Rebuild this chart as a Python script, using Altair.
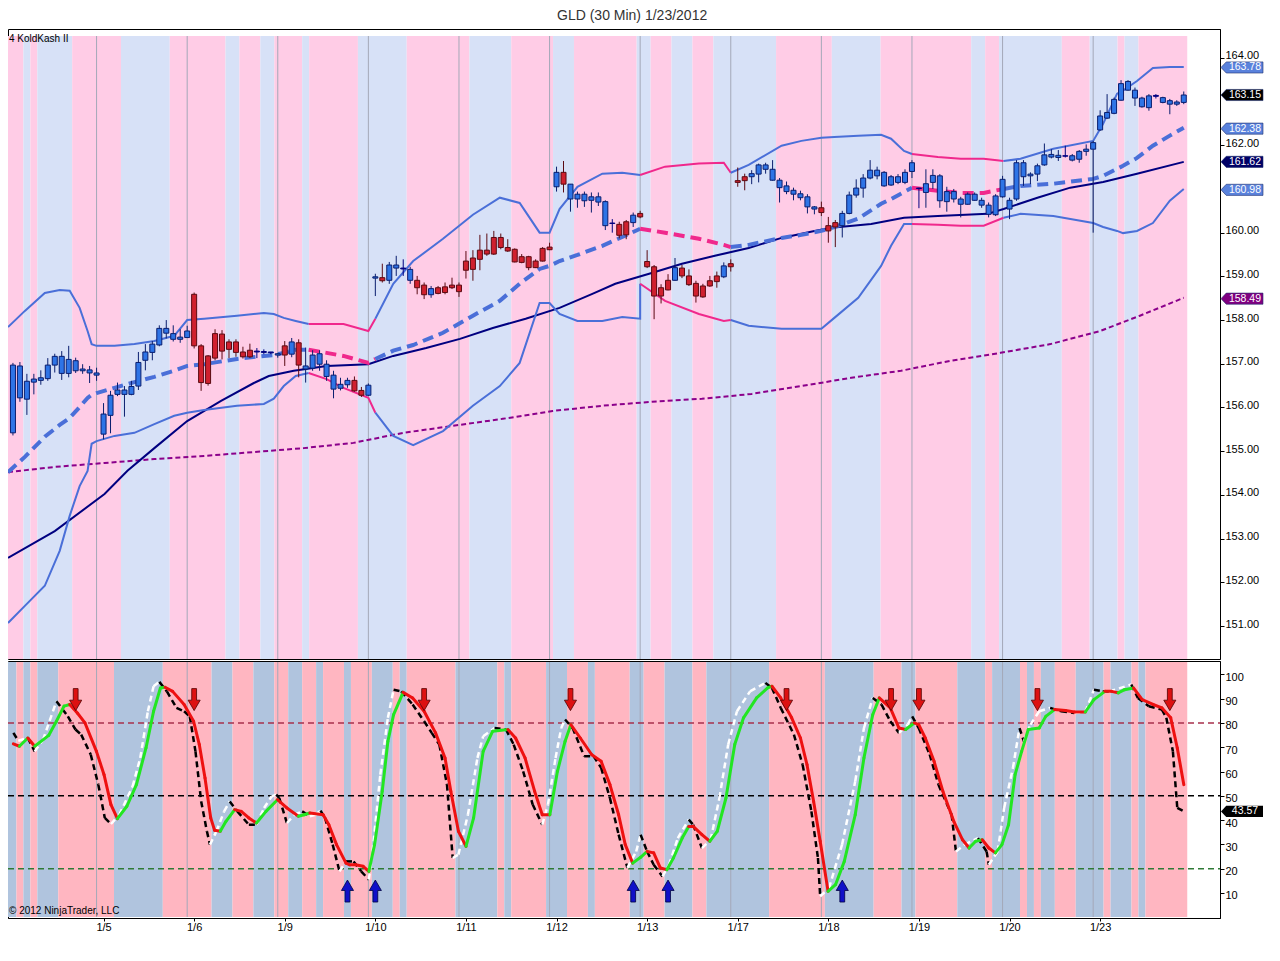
import altair as alt
import pandas as pd

# ---------------- data ----------------
BARS_PER_DAY = 13
day_labels = ["1/5", "1/6", "1/9", "1/10", "1/11", "1/12", "1/13", "1/17", "1/18", "1/19", "1/20", "1/23"]

opens = [
155.42,156.22,156.19,156.58,156.62,156.66,156.97,156.78,156.78,156.84,156.84,156.79,156.74,
155.39,155.82,156.30,156.30,156.30,156.49,157.08,157.26,157.43,157.70,157.56,157.56,157.60,
158.59,157.41,157.18,157.69,157.68,157.50,157.50,157.27,157.31,157.29,157.28,157.25,157.20,
157.41,157.22,157.48,156.88,156.90,156.99,156.71,156.42,156.44,156.52,156.62,156.39,156.28,
158.96,158.97,158.91,159.19,159.17,158.91,158.91,158.80,158.58,158.74,158.76,158.80,158.80,
159.35,159.42,159.60,159.60,159.89,159.89,159.66,159.62,159.45,159.45,159.35,159.64,159.67,
161.05,161.38,160.77,160.77,160.73,160.74,160.70,160.16,160.21,160.19,160.25,160.23,160.44,
159.34,159.22,158.74,158.91,158.91,159.19,159.01,158.84,158.78,158.90,159.01,158.99,159.29,
161.19,161.28,161.28,161.34,161.45,161.20,161.03,160.94,160.88,160.80,160.59,160.54,160.57,
160.16,160.23,160.16,160.44,160.86,161.02,161.25,161.30,161.07,161.09,161.15,161.15,161.40,
161.01,160.92,161.15,160.73,160.71,160.77,160.65,160.65,160.74,160.63,160.42,160.41,160.82,
160.54,160.77,161.28,161.30,161.34,161.55,161.73,161.72,161.75,161.66,161.68,161.86,161.91,
162.35,162.62,162.73,163.03,163.26,163.08,162.88,162.86,163.12,162.98,162.94,162.94,162.98,
]
highs = [
157.02,157.04,156.77,156.77,156.85,157.13,157.23,157.29,157.41,157.14,156.99,156.95,156.91,
156.10,156.38,156.57,156.49,156.61,157.27,157.45,157.52,157.88,158.00,157.88,157.79,157.87,
158.63,157.45,157.20,157.79,157.77,157.56,157.56,157.39,157.46,157.36,157.33,157.27,157.25,
157.52,157.59,157.56,157.37,157.31,157.31,157.08,156.84,156.68,156.68,156.71,156.47,156.55,
159.06,159.29,159.33,159.47,159.39,159.22,159.01,158.86,158.78,158.78,158.86,158.97,158.86,
159.58,159.60,159.95,159.98,160.04,159.98,159.85,159.64,159.51,159.47,159.39,159.67,159.77,
161.51,161.64,161.11,160.94,160.94,160.92,160.92,160.74,160.31,160.25,160.29,160.46,160.50,
159.60,159.26,158.82,159.05,159.42,159.26,159.16,158.90,158.83,159.01,159.11,159.32,159.39,
161.49,161.35,161.43,161.58,161.60,161.66,161.25,161.17,161.03,160.96,160.88,160.61,160.71,
160.36,160.29,160.50,160.94,161.22,161.34,161.66,161.51,161.41,161.32,161.34,161.45,161.66,
161.03,161.45,161.45,161.34,161.05,161.00,160.82,160.92,160.92,160.80,160.69,160.88,161.30,
160.80,161.66,161.66,161.38,161.58,162.04,161.91,161.89,161.99,161.80,161.89,162.02,162.10,
162.80,163.17,163.09,163.49,163.49,163.32,163.11,163.17,163.17,163.11,163.06,163.03,163.23,
]
lows = [
155.36,156.13,155.83,156.30,156.52,156.61,156.80,156.63,156.69,156.79,156.77,156.56,156.61,
155.27,155.41,156.26,155.79,156.28,156.40,156.85,157.08,157.40,157.58,157.51,157.48,157.60,
157.35,156.38,156.50,157.08,157.10,157.13,157.16,157.12,157.13,157.13,157.22,157.22,157.14,
156.95,157.15,156.69,156.57,156.84,156.84,156.61,156.21,156.39,156.45,156.36,156.24,156.26,
158.55,158.86,158.83,159.01,159.01,158.83,158.59,158.48,158.51,158.59,158.59,158.71,158.53,
158.95,158.90,159.14,159.47,159.49,159.62,159.56,159.32,159.30,159.14,159.19,159.34,159.60,
160.94,160.92,160.48,160.57,160.59,160.46,160.61,160.06,160.00,159.87,159.85,160.13,160.33,
159.19,158.02,158.38,158.68,158.90,158.96,158.78,158.40,158.51,158.76,158.74,158.96,159.11,
161.05,160.97,161.11,161.15,161.35,161.19,160.69,160.88,160.74,160.74,160.44,160.42,160.38,
159.77,159.67,159.89,160.42,160.80,160.80,161.22,161.22,161.05,161.07,161.11,161.11,161.25,
160.56,160.57,161.00,160.57,160.48,160.69,160.35,160.64,160.73,160.57,160.35,160.38,160.80,
160.31,160.73,161.07,161.11,161.18,161.53,161.70,161.64,161.72,161.63,161.60,161.76,160.00,
162.33,162.60,162.71,163.02,163.25,162.90,162.86,162.79,163.07,162.96,162.71,162.90,162.94,
]
closes = [
156.97,156.95,156.60,156.65,156.68,156.97,157.17,157.17,157.10,157.07,156.88,156.86,156.79,
155.85,156.28,156.40,156.40,156.48,157.03,157.27,157.45,157.81,157.81,157.69,157.61,157.75,
157.41,156.57,156.55,157.13,157.29,157.33,157.26,157.16,157.16,157.27,157.26,157.27,157.23,
157.20,157.50,156.97,156.95,157.20,157.23,156.99,156.74,156.53,156.62,156.38,156.28,156.51,
158.99,158.90,159.26,159.26,159.19,159.16,158.74,158.58,158.72,158.61,158.63,158.74,158.65,
159.14,159.16,159.39,159.51,159.51,159.66,159.58,159.33,159.32,159.20,159.20,159.35,159.61,
161.38,161.11,161.11,160.88,160.88,160.82,160.82,160.71,160.22,159.94,159.95,160.40,160.36,
159.22,158.55,158.55,158.69,159.20,159.01,158.81,158.55,158.53,158.78,158.88,159.24,159.22,
161.15,161.19,161.35,161.55,161.55,161.45,161.20,161.07,160.97,160.89,160.82,160.59,160.46,
160.04,160.13,160.44,160.86,161.02,161.25,161.43,161.43,161.38,161.28,161.28,161.38,161.60,
161.02,161.12,161.31,161.30,160.94,160.94,160.77,160.88,160.88,160.74,160.63,160.84,161.22,
160.74,161.60,161.60,161.34,161.53,161.78,161.79,161.77,161.76,161.76,161.86,161.91,162.06,
162.67,162.75,163.05,163.41,163.46,163.26,163.08,163.13,163.14,163.09,163.02,162.99,163.15,
]

# Bollinger-style bands: bar position, upper, middle, lower, state (B = blue, P = pink squeeze)
bb_u = [-0.71, 1.71, 4.57, 6.71, 8.14, 9.57, 10.71, 11.29, 12.0, 14.57, 17.43, 20.29, 23.14, 25.0,
        27.43, 32.14, 36.0, 37.43, 38.86, 40.57, 42.43, 45.0, 47.43, 51.0, 52.0, 54.57, 57.43, 61.71,
        66.0, 69.86, 72.71, 75.57, 77.0, 78.43, 81.0, 84.57, 87.43, 90.0, 90.0, 93.57, 98.43, 102.0,
        103.0, 105.57, 110.29, 113.14, 116.0, 117.86, 121.29, 124.57, 126.0, 127.86, 129.0, 132.71,
        136.0, 139.29, 142.14, 144.57, 149.29, 155.0, 156.43, 158.43, 159.29, 161.29, 163.57, 166.0, 168.0]
bb_upper = [157.84, 158.21, 158.62, 158.69, 158.67, 158.28, 157.75, 157.45, 157.41, 157.41, 157.45, 157.52,
            157.64, 158.00, 158.03, 158.10, 158.16, 158.14, 158.05, 157.98, 157.91, 157.91, 157.91, 157.75,
            158.03, 158.83, 159.35, 159.86, 160.41, 160.80, 160.68, 160.00, 160.00, 160.54, 161.05, 161.35,
            161.37, 161.32, 161.32, 161.51, 161.58, 161.60, 161.37, 161.55, 161.99, 162.10, 162.17, 162.19,
            162.22, 162.24, 162.15, 161.87, 161.80, 161.73, 161.69, 161.69, 161.64, 161.69, 161.92, 162.10,
            162.49, 163.18, 163.25, 163.47, 163.77, 163.79, 163.79]
bb_mid = [154.52, 154.87, 155.33, 155.60, 155.76, 156.01, 156.22, 156.29, 156.33, 156.45, 156.58, 156.70,
          156.84, 156.95, 156.99, 157.11, 157.18, 157.20, 157.25, 157.32, 157.32, 157.25, 157.18, 157.02,
          157.11, 157.30, 157.43, 157.71, 158.10, 158.44, 158.83, 159.17, 159.24, 159.35, 159.49, 159.70,
          159.90, 160.09, 160.09, 160.00, 159.86, 159.72, 159.67, 159.72, 159.88, 159.95, 160.04, 160.13,
          160.32, 160.66, 160.77, 160.93, 161.03, 160.96, 160.91, 160.91, 161.00, 161.07, 161.12, 161.23,
          161.30, 161.46, 161.53, 161.71, 161.99, 162.22, 162.40]
bb_lower = [151.07, 151.46, 151.92, 152.72, 153.52, 154.20, 154.55, 155.17, 155.23, 155.35, 155.42, 155.62,
            155.81, 155.88, 155.94, 156.04, 156.08, 156.20, 156.49, 156.72, 156.79, 156.65, 156.45, 156.22,
            155.88, 155.35, 155.14, 155.46, 156.04, 156.49, 157.02, 158.39, 158.39, 158.14, 157.98, 157.98,
            158.07, 158.03, 158.83, 158.44, 158.14, 157.98, 158.00, 157.87, 157.80, 157.80, 157.80, 158.05,
            158.51, 159.24, 159.70, 160.20, 160.20, 160.18, 160.16, 160.16, 160.34, 160.43, 160.38, 160.22,
            160.13, 160.04, 159.99, 160.04, 160.22, 160.73, 161.00]
bb_state = ["B"] * 20 + ["P"] * 4 + ["B"] * 14 + ["P"] * 4 + ["B"] * 10 + ["P"] * 4 + ["B"] * 11

navy_u = [-0.71, 6.0, 13.14, 16.43, 20.29, 25.0, 29.86, 34.57, 36.71, 40.29, 45.0, 51.0, 54.57, 59.29,
          64.14, 68.86, 73.57, 78.43, 83.14, 86.43, 91.29, 96.0, 100.71, 105.57, 110.29, 115.0, 117.43,
          123.14, 127.86, 132.71, 139.86, 142.14, 147.0, 151.71, 156.43, 161.29, 168.0]
navy_v = [152.56, 153.17, 154.02, 154.55, 155.07, 155.69, 156.15, 156.56, 156.72, 156.84, 156.95, 156.99,
          157.18, 157.36, 157.57, 157.82, 158.03, 158.28, 158.60, 158.83, 159.06, 159.29, 159.47, 159.65,
          159.88, 160.04, 160.11, 160.20, 160.34, 160.38, 160.43, 160.54, 160.80, 161.03, 161.16, 161.35, 161.62]

purple_u = [-0.71, 6.0, 13.14, 20.29, 27.43, 34.57, 41.71, 48.86, 56.0, 63.14, 70.29, 77.43, 84.57, 91.71,
            98.86, 106.0, 113.14, 120.29, 127.43, 134.57, 141.71, 148.86, 156.0, 161.71, 168.0]
purple_v = [154.52, 154.64, 154.73, 154.82, 154.89, 154.98, 155.07, 155.19, 155.42, 155.58, 155.74, 155.92,
            156.04, 156.13, 156.20, 156.31, 156.49, 156.68, 156.84, 157.07, 157.25, 157.45, 157.75, 158.10, 158.51]

upper_bg_edges = [-0.71, 1.5, 2.5, 3.5, 8.5, 15.5, 22.5, 30.5, 32.5, 35.5, 37.5, 41.5, 42.5, 49.5, 56.5,
                  65.5, 71.5, 77.5, 80.5, 89.5, 91.5, 94.5, 97.5, 100.5, 109.5, 117.5, 124.5, 137.5, 139.5,
                  141.5, 150.5, 154.5, 158.5, 159.5, 161.5, 168.5]
upper_bg_states = ["P", "B"] * 17 + ["P"]
lower_bg_edges = [-0.71, 0.5, 1.5, 2.5, 3.5, 6.5, 14.5, 21.5, 28.5, 31.5, 34.5, 37.5, 39.5, 41.5, 43.5,
                  44.5, 47.5, 48.5, 51.5, 54.5, 55.5, 56.5, 63.5, 69.5, 70.5, 71.5, 76.5, 79.5, 82.5, 83.5,
                  88.5, 90.5, 93.5, 97.5, 99.5, 108.5, 116.5, 123.5, 127.5, 129.5, 135.5, 139.5, 140.5,
                  144.5, 145.5, 146.5, 147.5, 149.5, 152.5, 156.5, 157.5, 160.5, 161.5, 162.5, 168.5]
lower_bg_states = ["B", "P"] * 27

# oscillator (solid, green rising / red falling)
osc_u = [0.06, 0.93, 2.14, 3.12, 5.14, 6.24, 7.33, 8.15, 9.24, 10.34, 11.98, 13.07, 14.06, 14.99, 16.35,
         17.72, 19.09, 20.18, 21.16, 21.82, 22.91, 24.56, 25.92, 26.74, 27.56, 28.38, 28.93, 29.75, 30.57,
         31.82, 32.76, 33.85, 34.94, 36.31, 37.95, 39.31, 40.96, 41.78, 42.6, 44.51, 45.33, 46.43, 47.79,
         48.33, 49.16, 50.25, 51.07, 51.89, 52.99, 53.8, 54.62, 55.99, 57.35, 59.0, 60.64, 62.0, 62.83,
         63.92, 65.01, 66.1, 67.47, 68.84, 71.02, 72.12, 73.48, 74.85, 75.95, 77.04, 78.13, 79.22, 80.05,
         81.41, 83.06, 84.4, 85.66, 86.91, 87.86, 88.93, 90.06, 91.0, 91.94, 92.89, 93.83, 94.77, 96.03,
         96.97, 97.6, 98.86, 99.99, 101.06, 102.31, 103.57, 104.83, 106.71, 108.29, 108.91, 110.17, 111.74,
         113.0, 113.94, 114.89, 115.83, 116.96, 118.03, 119.29, 120.86, 122.11, 123.37, 124.31, 125.89,
         127.14, 128.09, 129.34, 129.97, 130.91, 132.17, 133.43, 135.0, 136.26, 137.2, 138.14, 139.09,
         140.03, 140.97, 141.91, 142.86, 143.8, 144.74, 145.69, 147.26, 148.2, 149.46, 151.03, 152.3,
         153.87, 155.11, 156.69, 157.64, 158.59, 159.51, 160.79, 162.04, 163.6, 164.87, 166.13, 167.07, 168.01]
osc_v = [71.4, 70.4, 73.8, 70.4, 74.9, 80.7, 86.9, 87.6, 84.1, 80.0, 68.3, 58.7, 46.4, 40.6, 45.7,
         54.6, 69.7, 84.8, 94.4, 94.7, 93.0, 87.6, 80.7, 71.1, 57.3, 40.9, 35.8, 35.4, 39.5,
         44.3, 43.6, 40.9, 38.8, 43.6, 48.4, 45.0, 41.6, 42.2, 42.9, 42.2, 38.1, 29.9, 22.3,
         21.6, 21.6, 21.0, 18.9, 29.9, 51.9, 72.4, 83.4, 92.6, 90.3, 84.8, 75.9, 65.6, 51.9,
         35.4, 29.2, 40.9, 68.3, 76.6, 77.3, 73.8, 65.6, 51.9, 42.2, 42.2, 60.1, 72.4, 79.3,
         73.8, 66.9, 64.2, 54.6, 42.2, 29.9, 22.3, 24.7, 27.1, 26.5, 20.3, 19.6, 24.4, 32.6,
         37.4, 37.4, 34.0, 31.3, 35.4, 49.1, 71.1, 82.1, 90.3, 94.4, 95.1, 90.3, 82.1,
         73.8, 62.8, 47.7, 31.3, 10.7, 13.4, 23.0, 42.2, 65.6, 83.4, 90.3, 86.2,
         77.9, 77.3, 80.0, 79.3, 73.8, 64.2, 51.9, 39.5, 31.9, 28.5, 31.3, 31.9,
         28.5, 26.5, 29.9, 38.1, 58.7, 68.3, 77.3, 77.9, 82.7, 85.5, 85.1, 84.5,
         84.5, 89.6, 93.0, 93.0, 92.4, 93.7, 94.4, 89.6, 87.6, 86.2, 82.1, 69.7, 54.6]

# oscillator signal (dashed, white rising / black falling)
sig_u = [0.06, 0.77, 2.14, 3.12, 4.32, 6.24, 7.88, 8.97, 9.79, 11.16, 12.25, 13.18, 14.06, 15.26, 17.17,
         18.27, 19.36, 20.18, 21.0, 22.09, 23.46, 24.56, 25.37, 26.19, 27.01, 27.83, 28.27, 29.2, 30.3,
         31.11, 32.2, 33.85, 34.94, 36.03, 37.13, 37.78, 38.22, 39.31, 40.41, 41.5, 42.6, 43.42, 44.13,
         44.78, 45.88, 46.86, 47.79, 48.88, 49.97, 51.07, 51.61, 52.71, 53.8, 54.62, 55.72, 57.35, 59.0,
         60.09, 61.18, 62.28, 63.1, 63.92, 65.28, 66.65, 67.47, 69.11, 70.75, 71.85, 73.21, 74.58, 75.95,
         76.77, 77.86, 78.67, 79.22, 80.31, 81.96, 83.33, 84.4, 85.66, 86.91, 88.17, 89.43, 90.06, 91.0,
         91.94, 93.2, 94.14, 95.4, 96.97, 97.6, 98.86, 100.11, 101.37, 102.63, 103.89, 105.77, 107.97,
         108.91, 110.17, 112.06, 113.31, 114.57, 115.51, 115.83, 117.09, 118.97, 120.86, 122.11, 123.37,
         124.63, 125.89, 127.14, 128.4, 129.03, 129.97, 131.54, 132.8, 134.69, 135.31, 136.57, 138.46,
         139.71, 140.03, 141.29, 142.23, 143.49, 144.43, 145.06, 146.0, 147.26, 148.83, 150.4, 152.3,
         153.87, 155.11, 156.37, 157.33, 160.47, 161.41, 162.99, 164.87, 165.5, 166.44, 167.07, 168.01]
sig_v = [75.9, 72.7, 73.8, 68.3, 73.1, 88.9, 82.7, 77.3, 75.2, 67.0, 54.6, 40.9, 38.4, 42.2, 53.9,
         65.6, 84.8, 95.1, 96.9, 93.0, 86.2, 84.8, 82.7, 68.3, 47.7, 35.4, 29.9, 35.4, 43.6,
         47.7, 43.6, 38.1, 38.1, 45.0, 49.8, 50.5, 49.1, 38.8, 42.2, 43.6, 41.6, 42.2, 43.9,
         40.9, 29.9, 18.9, 23.0, 23.0, 18.9, 15.5, 27.1, 58.7, 82.1, 93.7, 93.0, 87.6, 80.7,
         75.9, 71.1, 54.6, 24.4, 25.8, 42.2, 65.6, 74.5, 77.9, 77.3, 71.1, 60.1, 46.4, 38.1,
         46.4, 65.6, 77.9, 81.4, 77.9, 66.3, 66.3, 61.5, 49.1, 34.0, 20.3, 27.1, 34.0, 27.1,
         21.6, 16.8, 21.6, 32.6, 40.2, 38.1, 28.5, 31.9, 49.1, 71.1, 84.8, 93.0, 96.5,
         94.4, 86.2, 75.2, 62.8, 43.6, 24.4, 8.6, 12.0, 29.9, 56.0, 77.9, 90.3,
         87.6, 80.7, 75.9, 79.3, 82.7, 77.9, 67.0, 54.6, 42.2, 27.1, 29.9, 32.6,
         27.1, 21.6, 27.1, 45.0, 61.5, 77.9, 72.4, 79.3, 84.8, 86.2, 84.8, 84.1,
         84.5, 93.7, 93.0, 93.0, 95.8, 90.3, 86.9, 85.5, 82.1, 68.3, 45.0, 43.6]

sell_arrows = [9, 26, 59, 80, 111, 126, 130, 147, 166]
buy_arrows = [48, 52, 89, 94, 119]
osc_levels = [80, 50, 20]
osc_level_kinds = ["ob", "mid", "os"]

price_tags = [163.78, 163.15, 162.38, 161.62, 160.98, 158.49]
price_tag_kinds = ["band", "last", "band", "navy", "band", "purple"]
price_axis_labels = [151, 152, 153, 154, 155, 156, 157, 158, 159, 160, 162, 164]
osc_tags = [43.57]
osc_tag_kinds = ["last"]
osc_axis_labels = [10, 20, 30, 40, 50, 60, 70, 80, 90, 100]

# ---------------- layout / styling ----------------
FONT = "Liberation Sans"
W, H1, H2 = 1212, 630, 257
x_sc = alt.Scale(domain=[-0.71, 173.2], nice=False, zero=False)
y1_sc = alt.Scale(domain=[150.245, 164.66], nice=False, zero=False)
y2_sc = alt.Scale(domain=[-0.3, 105.5], nice=False, zero=False)

state_up = alt.Scale(domain=["P", "B"], range=["#FFCCE6", "#D7E1F7"])
state_lo = alt.Scale(domain=["P", "B"], range=["#FFB6C1", "#B0C4DE"])
band_fill = alt.Scale(domain=["B", "P"], range=["#4169E1", "#FF1493"])
band_line = alt.Scale(domain=["B", "P"], range=["#4A6FD8", "#F0288C"])
tag_fill = alt.Scale(domain=["band", "last", "navy", "purple"],
                     range=["#5A82DC", "#000000", "#000066", "#800080"])

TAG_PATH = "M -1 0 L -0.75 -0.265 L 1 -0.265 L 1 0.265 L -0.75 0.265 Z"
TAG_SIZE = 1764
TAG_X = W + 22
DOWN_ARROW = "M -0.22 -1 L 0.22 -1 L 0.22 0.05 L 0.55 0.05 L 0 1 L -0.55 0.05 L -0.22 0.05 Z"
UP_ARROW = "M -0.22 1 L 0.22 1 L 0.22 -0.05 L 0.55 -0.05 L 0 -1 L -0.55 -0.05 L -0.22 -0.05 Z"

axis_y1 = alt.Axis(orient="right", values=price_axis_labels, format=".2f", grid=False,
                   tickSize=4, labelPadding=1, labelOffset=-2, title=None)
axis_y2 = alt.Axis(orient="right", values=osc_axis_labels, format="d", grid=False,
                   tickSize=4, labelPadding=1, labelOffset=3, title=None)
label_pos = [BARS_PER_DAY * (k + 1) for k in range(len(day_labels))]
label_expr = "[" + ",".join("'%s'" % d for d in day_labels) + "][round(datum.value/%d)-1]" % BARS_PER_DAY
axis_x2 = alt.Axis(orient="bottom", values=label_pos, labelExpr=label_expr, grid=False,
                   tickSize=3, labelPadding=0, title=None)


def XU(f="u"):
    return alt.X(f + ":Q", scale=x_sc, axis=None)


def XL(f="u"):
    return alt.X(f + ":Q", scale=x_sc, axis=axis_x2)


def Y1(f):
    return alt.Y(f + ":Q", scale=y1_sc, axis=axis_y1)


def Y2(f):
    return alt.Y(f + ":Q", scale=y2_sc, axis=axis_y2)


# backgrounds
bg_up_df = pd.DataFrame({"x0": upper_bg_edges[:-1], "x1": upper_bg_edges[1:], "s": upper_bg_states})
bg_lo_df = pd.DataFrame({"x0": lower_bg_edges[:-1], "x1": lower_bg_edges[1:], "s": lower_bg_states})
grid_df = pd.DataFrame({"u": [BARS_PER_DAY * (k + 1) - 1 for k in range(len(day_labels))]})

bg_up = alt.Chart(bg_up_df).mark_rect().encode(
    x=XU("x0"), x2="x1:Q", y=alt.value(7), y2=alt.value(H1),
    color=alt.Color("s:N", scale=state_up, legend=None))
grid_up = alt.Chart(grid_df).mark_rule(color="#A4A8B8", strokeWidth=1).encode(
    x=XU(), y=alt.value(7), y2=alt.value(H1))

# band frame (segments split where state changes)
rows = []
seg = 0
k = 0
for i in range(len(bb_u)):
    if i > 0 and bb_state[i] != bb_state[i - 1]:
        rows.append(dict(u=bb_u[i], up=bb_upper[i], mid=bb_mid[i], lo=bb_lower[i],
                         state=bb_state[i - 1], seg=seg, k=k))
        k += 1
        seg += 1
    rows.append(dict(u=bb_u[i], up=bb_upper[i], mid=bb_mid[i], lo=bb_lower[i],
                     state=bb_state[i], seg=seg, k=k))
    k += 1
bb_df = pd.DataFrame(rows)

bb_area = alt.Chart(bb_df).mark_area(opacity=0.2).encode(
    x=XU(), y=Y1("up"), y2="lo:Q",
    color=alt.Color("state:N", scale=band_fill, legend=None),
    detail="seg:N", order="k:Q")

purple = alt.Chart(pd.DataFrame({"u": purple_u, "v": purple_v})).mark_line(
    color="#8B008B", strokeWidth=2, strokeDash=[5, 3]).encode(x=XU(), y=Y1("v"))
navy = alt.Chart(pd.DataFrame({"u": navy_u, "v": navy_v})).mark_line(
    color="#000080", strokeWidth=2).encode(x=XU(), y=Y1("v"))


def band_line_layer(field, **kw):
    return alt.Chart(bb_df).mark_line(**kw).encode(
        x=XU(), y=Y1(field),
        color=alt.Color("state:N", scale=band_line, legend=None),
        detail="seg:N", order="k:Q")


bb_up_line = band_line_layer("up", strokeWidth=2)
bb_lo_line = band_line_layer("lo", strokeWidth=2)
bb_mid_line = band_line_layer("mid", strokeWidth=4, strokeDash=[11, 6])

# candles
cdf = pd.DataFrame({"u": list(range(len(opens))), "o": opens, "h": highs, "l": lows, "c": closes})
cdf["dir"] = ["flat" if abs(c - o) < 0.03 else ("up" if c > o else "down") for o, c in zip(opens, closes)]
dir_fill = alt.Scale(domain=["up", "down", "flat"], range=["#2E74E6", "#D0202E", "#000080"])
dir_edge = alt.Scale(domain=["up", "down", "flat"], range=["#0A1E6E", "#5A0A12", "#000080"])

wicks = alt.Chart(cdf).mark_rule(strokeWidth=1).encode(
    x=XU(), y=Y1("l"), y2="h:Q",
    color=alt.Color("dir:N", scale=dir_edge, legend=None))
bodies = alt.Chart(cdf).transform_calculate(
    a="datum.u - 0.36", b="datum.u + 0.36").mark_rect(strokeWidth=1).encode(
    x=XU("a"), x2="b:Q", y=Y1("o"), y2="c:Q",
    fill=alt.Fill("dir:N", scale=dir_fill, legend=None),
    stroke=alt.Stroke("dir:N", scale=dir_edge, legend=None))

ptag_df = pd.DataFrame({"v": price_tags, "kind": price_tag_kinds})
ptag_shape = alt.Chart(ptag_df).mark_point(shape=TAG_PATH, filled=True, size=TAG_SIZE, opacity=1,
                                           stroke="#203070", strokeWidth=0.6).encode(
    x=alt.value(TAG_X), y=Y1("v"),
    fill=alt.Fill("kind:N", scale=tag_fill, legend=None))
ptag_text = alt.Chart(ptag_df).mark_text(font=FONT, fontSize=10.5, color="white", align="center",
                                         baseline="middle").encode(
    x=alt.value(TAG_X + 3), y=Y1("v"), text=alt.Text("v:Q", format=".2f"))

name_txt = alt.Chart(pd.DataFrame({"t": ["4 KoldKash II"]})).mark_text(
    font=FONT, fontSize=10, align="left", baseline="middle", color="#000000").encode(
    x=alt.value(1), y=alt.value(10), text="t:N")

upper = alt.layer(bg_up, grid_up, bb_area, purple, navy, bb_up_line, bb_lo_line, bb_mid_line,
                  wicks, bodies, ptag_shape, ptag_text, name_txt).resolve_scale(
    color="independent", fill="independent", stroke="independent").properties(width=W, height=H1)

# ---------------- lower panel ----------------
bg_lo = alt.Chart(bg_lo_df).mark_rect().encode(
    x=XL("x0"), x2="x1:Q", y=alt.value(1), y2=alt.value(H2 - 1),
    color=alt.Color("s:N", scale=state_lo, legend=None))
grid_lo = alt.Chart(grid_df).mark_rule(color="#A4A8B8", strokeWidth=1).encode(
    x=XL(), y=alt.value(1), y2=alt.value(H2 - 1))

lvl_df = pd.DataFrame({"v": osc_levels, "kind": osc_level_kinds})
levels = alt.Chart(lvl_df).mark_rule(strokeWidth=1.6, strokeDash=[6, 4]).encode(
    y=Y2("v"), x=alt.value(0), x2=alt.value(W),
    color=alt.Color("kind:N", scale=alt.Scale(domain=["ob", "mid", "os"],
                                              range=["#A8304C", "#000000", "#2E7A36"]), legend=None))


def seg_frame(us, vs):
    d = pd.DataFrame({"u": us[:-1], "v": vs[:-1], "u2": us[1:], "v2": vs[1:]})
    d["dir"] = ["up" if b > a else "down" for a, b in zip(vs[:-1], vs[1:])]
    return d


sig_lines = alt.Chart(seg_frame(sig_u, sig_v)).mark_rule(strokeWidth=2.5, strokeDash=[6, 4]).encode(
    x=XL(), x2="u2:Q", y=Y2("v"), y2="v2:Q",
    color=alt.Color("dir:N", scale=alt.Scale(domain=["up", "down"], range=["#FFFFFF", "#000000"]),
                    legend=None))
osc_lines = alt.Chart(seg_frame(osc_u, osc_v)).mark_rule(strokeWidth=3, strokeCap="round").encode(
    x=XL(), x2="u2:Q", y=Y2("v"), y2="v2:Q",
    color=alt.Color("dir:N", scale=alt.Scale(domain=["up", "down"], range=["#22E622", "#EE1111"]),
                    legend=None))

sell = alt.Chart(pd.DataFrame({"u": sell_arrows, "lvl": [89.6] * len(sell_arrows)})).mark_point(
    shape=DOWN_ARROW, filled=True, size=484, fill="#DD1111", stroke="#500000", strokeWidth=0.8,
    opacity=1).encode(x=XL(), y=Y2("lvl"))
buy = alt.Chart(pd.DataFrame({"u": buy_arrows, "lvl": [10.8] * len(buy_arrows)})).mark_point(
    shape=UP_ARROW, filled=True, size=484, fill="#1010C8", stroke="#000040", strokeWidth=0.8,
    opacity=1).encode(x=XL(), y=Y2("lvl"))

otag_df = pd.DataFrame({"v": osc_tags, "kind": osc_tag_kinds})
otag_shape = alt.Chart(otag_df).mark_point(shape=TAG_PATH, filled=True, size=TAG_SIZE, opacity=1).encode(
    x=alt.value(TAG_X), y=Y2("v"),
    fill=alt.Fill("kind:N", scale=tag_fill, legend=None))
otag_text = alt.Chart(otag_df).mark_text(font=FONT, fontSize=10.5, color="white", align="center",
                                         baseline="middle").encode(
    x=alt.value(TAG_X + 3), y=Y2("v"), text=alt.Text("v:Q", format=".2f"))

copy_txt = alt.Chart(pd.DataFrame({"t": ["\u00a9 2012 NinjaTrader, LLC"]})).mark_text(
    font=FONT, fontSize=10, align="left", baseline="middle", color="#000000").encode(
    x=alt.value(1), y=alt.value(H2 - 7), text="t:N")

lower = alt.layer(bg_lo, grid_lo, levels, sig_lines, osc_lines, sell, buy, otag_shape, otag_text,
                  copy_txt).resolve_scale(
    color="independent", fill="independent", stroke="independent").properties(width=W, height=H2)

chart = alt.vconcat(upper, lower, spacing=0).resolve_scale(y="independent").properties(
    title=alt.Title("GLD (30 Min)  1/23/2012", font=FONT, fontSize=14, fontWeight="normal",
                    color="#333333", anchor="middle", offset=6),
    padding={"left": -9, "top": 0, "right": 0, "bottom": 0},
).configure_view(stroke="#000000", strokeWidth=1).configure_axis(
    labelFont=FONT, labelFontSize=11, labelColor="#000000", tickColor="#000000", domainColor="#000000"
).configure_concat(spacing=0)

chart.save("out.html", embed_options={"renderer": "svg", "actions": False})
